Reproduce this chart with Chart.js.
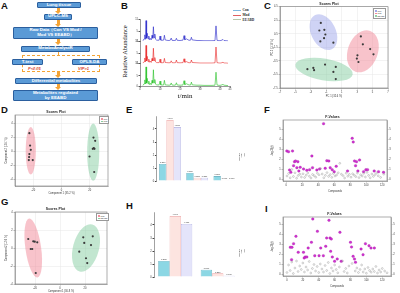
<!DOCTYPE html>
<html>
<head>
<meta charset="utf-8">
<script src="https://cdn.jsdelivr.net/npm/chart.js@4.4.1/dist/chart.umd.min.js"></script>
<style>
  body { margin:0; width:400px; height:293px; background:#fff; position:relative; overflow:hidden;
         font-family:"Liberation Sans", Arial, sans-serif; }
  canvas { position:absolute; }
  .lab { position:absolute; font-weight:bold; font-size:9.5px; color:#111; line-height:1; }
  .box { position:absolute; box-sizing:border-box; background:#5a9ad6; border:0.7px solid #2b5f9e;
         border-radius:1px; color:#fff; font-size:4.4px; font-weight:bold; line-height:4.8px;
         display:flex; align-items:center; justify-content:center; text-align:center; }
  .arr { position:absolute; width:3px; background:#f4a436; }
  .arr::after { content:""; position:absolute; left:-1.5px; top:100%;
                border-left:3px solid transparent; border-right:3px solid transparent; border-top:3px solid #f4a436; }
  .crit { position:absolute; font-size:4px; font-style:italic; font-weight:bold; color:#d8402a; }
  .leg { position:absolute; background:#fff; border:0.5px solid #999; font-size:2px; line-height:2.6px;
         padding:0.5px 1px; color:#333; }
  .leg i { display:inline-block; width:1.6px; height:1.6px; border-radius:50%; margin-right:1px; }
  .bl { position:absolute; font-family:"Liberation Serif", serif; font-weight:bold; font-size:3.4px; line-height:4.8px; color:#222; }
  .bl b { display:inline-block; width:8px; height:0.7px; vertical-align:middle; margin-right:1.5px; }
</style>
</head>
<body>

<!-- panel letters -->
<div class="lab" style="left:1px;top:1px">A</div>
<div class="lab" style="left:121px;top:1px">B</div>
<div class="lab" style="left:264px;top:1px">C</div>
<div class="lab" style="left:1px;top:105px">D</div>
<div class="lab" style="left:126px;top:105px">E</div>
<div class="lab" style="left:264px;top:105px">F</div>
<div class="lab" style="left:1px;top:197px">G</div>
<div class="lab" style="left:126px;top:201px">H</div>
<div class="lab" style="left:265px;top:204px">I</div>

<!-- A: workflow -->
<div class="box" style="left:37px;top:2px;width:44px;height:6px">Lung tissue</div>
<div class="arr" style="left:56.5px;top:8.3px;height:2.5px"></div>
<div class="box" style="left:44px;top:14px;width:28px;height:5.5px">UPLC-MS</div>
<div class="arr" style="left:56.5px;top:19.8px;height:4px"></div>
<div class="box" style="left:13px;top:27px;width:85px;height:12px">Raw Data（Con VS Mod /<br>Mod VS EEABD）</div>
<div class="arr" style="left:56.5px;top:39.3px;height:3px"></div>
<div class="box" style="left:21px;top:45.5px;width:69px;height:6.5px">MetaboAnalystR</div>
<div style="position:absolute;left:22px;top:55px;width:78px;height:17px;border:0.6px dashed #f4a436;box-sizing:border-box"></div>
<div style="position:absolute;left:57.5px;top:52px;width:1px;height:3px;background:#f4a436"></div>
<div class="box" style="left:12px;top:59px;width:31px;height:6px">T-test</div>
<div class="box" style="left:72px;top:59px;width:35px;height:6px">OPLS-DA</div>
<div class="crit" style="left:28px;top:66px">P&lt;0.05</div>
<div class="crit" style="left:78px;top:66px">VIP&gt;1</div>
<div class="arr" style="left:56.5px;top:72px;height:2.7px"></div>
<div class="box" style="left:15px;top:78px;width:82px;height:6px">Differential metabolites</div>
<div class="arr" style="left:56.5px;top:84.3px;height:2.5px"></div>
<div class="box" style="left:13px;top:90px;width:85px;height:11px">Metabolites regulated<br>by EEABD</div>

<!-- B extras -->
<div style="position:absolute;left:89px;top:48px;width:70px;text-align:center;transform:rotate(-90deg);
            font-family:'Liberation Serif',serif;font-size:6.5px;color:#111">Relative Abundance</div>
<div class="bl" style="left:233px;top:8px">
  <div><b style="background:#7fb8e0"></b>Con</div>
  <div><b style="background:#e06060"></b>Mod</div>
  <div><b style="background:#b8c8a8"></b>EEABD</div>
</div>

<canvas id="chB" width="152" height="101" style="left:118px;top:0px"></canvas>
<canvas id="chC" width="130" height="100" style="left:270px;top:0px"></canvas>
<canvas id="chD" width="130" height="90" style="left:0px;top:105px"></canvas>
<canvas id="chE" width="140" height="90" style="left:130px;top:105px"></canvas>
<canvas id="chF" width="130" height="90" style="left:270px;top:105px"></canvas>
<canvas id="chG" width="130" height="93" style="left:0px;top:200px"></canvas>
<canvas id="chH" width="140" height="93" style="left:130px;top:200px"></canvas>
<canvas id="chI" width="130" height="93" style="left:270px;top:200px"></canvas>

<!-- small legends -->
<div class="leg" style="left:373px;top:8px">
  <div><i style="background:#8c96e6"></i>Con</div>
  <div><i style="background:#f07a8c"></i>Mod</div>
  <div><i style="background:#78c896"></i>EEABD</div>
</div>
<div class="leg" style="left:99px;top:116px">
  <div><i style="background:#f07a8c"></i>Con</div>
  <div><i style="background:#78c896"></i>Mod</div>
</div>
<div class="leg" style="left:96px;top:213px">
  <div><i style="background:#f07a8c"></i>Mod</div>
  <div><i style="background:#78c896"></i>EEABD</div>
</div>
<div style="position:absolute;left:238px;top:153px;transform:rotate(90deg);font-size:2.2px;line-height:2.6px;color:#444">
  <div>Con</div><div>Mod</div><div>EEABD</div>
</div>
<div style="position:absolute;left:238px;top:249px;transform:rotate(90deg);font-size:2.2px;line-height:2.6px;color:#444">
  <div>Con</div><div>Mod</div><div>EEABD</div>
</div>

<script>
// ---- B: total ion chromatograms (x 10^7)
const rtTime = [1.5,2.0,2.4,2.7,3.0,3.3,3.6,4.0,4.4,4.8, 5.2,5.6,6.0,6.4,6.7,7.0,7.4,7.8,8.3,9.0,
  9.6,10.0,10.4,11.0,11.8,12.2,12.6,13.4,14.5,15.2, 15.6,16.0,17.0,17.8,18.2,18.6,20.0,21.5,22.0,22.4,
  23.2,24.5,25.3,25.7,26.1,27.0,28.5,30.0,32.0,34.0, 36.0,37.5,38.0,38.5,39.5,40.5,41.5,42.0,43.0,44.0];
const ticCon = [0.3,1.2,3.2,1.0,10.2,1.5,4.0,1.2,2.6,0.8, 1.4,0.7,3.0,1.5,7.2,1.8,3.6,1.0,0.6,0.5,
  0.6,2.6,0.6,0.5,0.6,3.0,0.7,0.5,0.4,0.6, 1.6,0.5,0.4,0.5,1.5,0.5,0.4,0.6,2.8,0.8,
  1.2,0.5,0.6,2.0,0.7,0.6,0.4,0.4,0.3,0.3, 0.3,0.4,7.6,0.5,0.3,0.4,0.9,0.4,0.3,0.2];
const ticMod = [0.3,1.0,2.8,0.9,9.0,1.3,3.6,1.0,2.2,0.7, 1.2,0.6,2.6,1.3,7.6,1.5,3.0,0.9,0.5,0.5,
  0.5,2.2,0.5,0.4,0.5,2.6,0.6,0.5,0.4,0.5, 1.4,0.5,0.4,0.5,1.8,0.5,0.4,0.5,2.4,0.7,
  1.0,0.4,0.5,1.8,0.6,0.5,0.4,0.3,0.3,0.3, 0.3,0.4,8.2,0.5,0.3,0.3,0.7,0.3,0.3,0.2];
const ticEEABD = [0.3,1.1,3.0,1.0,9.4,1.4,3.8,1.1,2.4,0.7, 1.3,0.6,2.8,1.4,8.0,1.6,3.2,0.9,0.6,0.5,
  0.6,2.4,0.6,0.5,0.5,2.8,0.6,0.5,0.4,0.5, 1.5,0.5,0.4,0.5,1.6,0.5,0.4,0.5,2.6,0.7,
  1.1,0.5,0.5,1.9,0.6,0.5,0.4,0.4,0.3,0.3, 0.3,0.4,6.8,0.5,0.3,0.4,0.8,0.4,0.3,0.2];

// ---- C: PCA scores, three groups
const cConX = [-1.71,-1.90,-1.25,-1.12,-1.29,-1.77,-0.08];
const cConY = [2.11,0.99,1.09,0.40,-0.14,-0.62,-0.81];
const cModX = [3.48,3.74,4.69,5.12,3.04,2.96,3.17];
const cModY = [0.11,-1.06,-1.75,-2.53,-2.67,-3.16,-3.66];
const cEeX = [-3.45,-2.68,-2.58,-1.16,0.23,-0.08,0.23];
const cEeY = [-4.72,-4.53,-4.87,-4.04,-4.39,-5.12,-6.19];
// ellipse centre / semi-axes / tilt (deg), order Con, Mod, EEABD
const cEllCx = [-1.37, 3.74, -1.29];
const cEllCy = [0.74, -2.09, -4.77];
const cEllRx = [1.6, 1.95, 3.77];
const cEllRy = [2.8, 3.2, 1.6];
const cEllRot = [-26, 20, 10];

// ---- D: OPLS-DA Con vs Mod
const dConX = [-22.8,-22.3,-21.8,-22.8,-23.0,-20.4,-23.2];
const dConY = [2.59,0.81,0.20,-0.41,-0.84,-1.27,-1.27];
const dModX = [22.7,23.9,22.2,23.4,19.9,23.2,22.9];
const dModY = [1.96,1.49,0.34,0.34,-0.76,-2.99,0.45];
const dEllCx = [-21.8, 22.5];
const dEllCy = [0.06, -0.13];
const dEllRx = [3.6, 4.3];
const dEllRy = [3.4, 4.1];

// ---- G: OPLS-DA Mod vs EEABD
const gModX = [-25.4,-21.4,-20.2,-18.2,-23.4,-22.2,-19.4];
const gModY = [1.00,0.74,0.70,0.63,-0.11,-0.11,-2.78];
const gEeX = [18.6,26.2,19.4,24.8,15.4,20.8,21.8];
const gEeY = [1.19,1.30,0.56,0.33,-0.41,-1.14,-1.67];
const gEllCx = [-21.4, 20.8];
const gEllCy = [0.0, 0.0];
const gEllRx = [6.3, 10.4];
const gEllRy = [3.3, 2.7];
const gEllRot = [-8, 15];

// ---- E / H: bar groups
const eCats = ['Total', 'Up', 'Down'];
const eCon = [1.31, 0.62, 0.38];
const eMod = [4.69, 0.25, 0.06];
const eEEABD = [4.15, 0.25, 0.06];
const hCats = ['Total', 'Up'];
const hCon = [1.23, 0.56];
const hMod = [4.69, 0.28];
const hEEABD = [4.08, 0.10];
const barTicks = [0, 1, 2, 3, 4];

// ---- F: F-values Con vs Mod
const fSigX = [0.8,2.9,7.9,4.2,5.8,9.2,10.4,11.7,13.3,14.6,15.8,17.5,21.7,25.8,29.2,32.1,32.9,38.3,41.7,46.7,
  48.8,50.8,53.3,55,57.5,60,62.5,76.7,82.5,83.8,85.4,86.7,87.9,89.6,91.7,96.7,99.6,101.7,110,115.4,121.7];
const fSigY = [2.8,2.73,2.8,0.9,0.67,1.33,1.73,1.8,1.13,1.73,0.8,1.17,1.0,0.87,0.93,2.3,1.13,0.9,1.0,5.53,
  1.07,1.83,1.8,1.13,0.93,0.73,1.27,0.8,4.07,3.7,1.8,1.33,1.73,0.8,1.9,0.73,0.93,0.93,0.8,0.73,0.67];
const fNsX = [1,3,5,7,9,11,13,15,17,19, 21,23,25,27,29,31,33,35,37,39, 41,43,45,47,49,51,53,55,57,59,
  61,63,65,67,69,71,73,75,77,79, 81,83,85,87,89,91,93,95,97,99, 101,103,105,107,109,111,113,115,118,122];
const fNsY = [0.30,0.55,0.12,0.95,0.25,0.62,0.08,0.35,0.48,0.20, 0.52,0.15,0.38,0.60,0.28,0.10,0.45,0.33,0.18,0.58,
  0.42,1.05,0.50,0.12,0.36,0.64,0.26,0.44,0.16,0.55, 0.30,0.40,0.62,1.57,0.48,0.34,0.10,0.58,0.28,0.46,
  0.18,0.52,0.38,0.24,0.60,0.14,0.42,0.30,0.56,0.20, 0.66,0.36,0.12,0.50,0.26,0.44,0.60,0.32,0.16,0.48];

// ---- I: F-values Mod vs EEABD
const iSigX = [4.2,6.3,8.3,11.3,5.8,14.2,20.8,21.7,22.9,25, 26.7,30.8,32.5,35,38.3,40.4,42.5,45.8,48.8,50,
  52.9,54.2,55.8,55,57.1,60,63.3,66.7,68.3,80, 81.3,83.3,85,86.3,93.3,95.8,98.8,103.3,105.8,110];
const iSigY = [2.67,2.67,3.03,3.77,1.43,2.17,2.17,1.6,1.7,1.7, 2.6,3.17,5.5,1.83,4.27,1.83,2.6,1.83,2.77,3.6,
  5.37,3.6,3.5,2.27,1.7,1.27,1.5,4.17,1.27,3.17, 2.7,1.77,1.5,1.17,2.5,1.93,3.03,2.83,2.6,2.6];
const iNsX = [0,2,4,6,8,10,12,14,16,18, 20,22,24,26,28,30,32,34,36,38, 40,42,44,46,48,50,52,54,56,58,
  60,62,64,66,70,72,74,76,78,82, 86,88,90,92,94,96,98,100,102,104, 106,108,110,112,114,116,118,120,123,126];
const iNsY = [0.15,0.9,0.35,1.2,0.05,0.6,1.3,0.25,0.8,0.45, 1.1,0.2,0.7,0.4,1.25,0.1,0.55,0.95,0.3,0.75,
  0.15,1.0,0.5,0.2,0.85,0.35,1.15,0.05,0.6,0.3, 0.9,0.45,0.12,0.7,1.3,0.25,0.55,0.1,0.8,1.05,
  0.3,0.6,0.15,0.45,0.9,0.2,0.5,0.08,0.65,0.35, 0.18,0.5,0.25,0.75,0.1,0.4,0.2,0.55,0.3,0.12];

Chart.defaults.animation = false;
Chart.defaults.responsive = false;
Chart.defaults.font.family = "'Liberation Sans', Arial, sans-serif";
Chart.defaults.font.size = 2.6;
Chart.defaults.color = '#333';
Chart.defaults.plugins.legend.display = false;
Chart.defaults.plugins.tooltip.enabled = false;

const RED = 'rgba(240,122,140,0.45)', GREEN = 'rgba(120,200,150,0.45)', BLUE = 'rgba(140,150,230,0.42)';

const pts = (xs, ys) => xs.map((x, i) => ({x, y: ys[i]}));

// draws confidence ellipses in data units
function ellipses(cx, cy, rx, ry, rot, colors) {
  return {
    id: 'ell',
    beforeDatasetsDraw(chart) {
      const {ctx, scales: {x, y}} = chart;
      ctx.save();
      cx.forEach((c, i) => {
        const px = x.getPixelForValue(c), py = y.getPixelForValue(cy[i]);
        const w = Math.abs(x.getPixelForValue(c + rx[i]) - px);
        const h = Math.abs(y.getPixelForValue(cy[i] + ry[i]) - py);
        ctx.beginPath();
        ctx.ellipse(px, py, w, h, (rot ? rot[i] : 0) * Math.PI / 180, 0, Math.PI * 2);
        ctx.fillStyle = colors[i];
        ctx.fill();
      });
      ctx.restore();
    }
  };
}

const frame = {
  id: 'frame',
  afterDraw(chart) {
    const {ctx, chartArea: a} = chart;
    ctx.save();
    ctx.strokeStyle = '#777';
    ctx.lineWidth = 0.6;
    ctx.strokeRect(a.left, a.top, a.right - a.left, a.bottom - a.top);
    ctx.restore();
  }
};

const barLabels = {
  id: 'barLabels',
  afterDatasetsDraw(chart) {
    const ctx = chart.ctx;
    ctx.save();
    ctx.font = "2.2px 'Liberation Sans'";
    ctx.fillStyle = '#333';
    ctx.textAlign = 'center';
    chart.data.datasets.forEach((ds, i) => {
      chart.getDatasetMeta(i).data.forEach((bar, j) => {
        ctx.fillText(ds.data[j].toFixed(3), bar.x, bar.y - 0.8);
      });
    });
    ctx.restore();
  }
};

function lin(o) {
  return {
    type: 'linear', min: o.min, max: o.max, position: o.pos,
    ticks: {stepSize: o.step, includeBounds: false, padding: 0.8, font: {size: 2.6}},
    grid: {drawOnChartArea: !!o.grid, color: '#e6e6e6', lineWidth: 0.5, tickLength: 1.5, tickColor: '#777'},
    border: {color: '#777', width: 0.5},
    title: {display: !!o.title, text: o.title, font: {size: 2.6}, padding: 0.5},
    afterFit: s => { if (s.isHorizontal()) s.height = o.fit; else s.width = o.fit; }
  };
}

const titleOpt = text => ({display: true, text, font: {size: 3.5, weight: 'bold'}, color: '#222',
                           padding: {top: 1.5, bottom: 1}});

function scoresChart(id, sets, plug, xs, ys, pad) {
  return new Chart(document.getElementById(id), {
    type: 'scatter',
    data: {datasets: sets.map(s => ({data: s, pointRadius: 1.1, pointBackgroundColor: '#3a3a3a', pointBorderWidth: 0}))},
    options: {
      layout: {padding: pad},
      plugins: {title: titleOpt('Scores Plot')},
      scales: {x: xs, y: ys}
    },
    plugins: [plug, frame]
  });
}

// B -- stacked axes: the first one listed sits at the bottom
const chromAxis = () => ({
  type: 'linear', position: 'left', stack: 'tic', stackWeight: 1, min: 0, max: 11,
  ticks: {stepSize: 5, padding: 0.5, font: {size: 2.6}},
  grid: {drawOnChartArea: false, tickLength: 1.5, tickColor: '#555'},
  border: {color: '#555', width: 0.6},
  afterFit: s => { s.width = 8; }
});
new Chart(document.getElementById('chB'), {
  type: 'line',
  data: {datasets: [
    {data: pts(rtTime, ticCon), yAxisID: 'yCon', borderColor: '#2020c8', borderWidth: 0.6, pointRadius: 0},
    {data: pts(rtTime, ticMod), yAxisID: 'yMod', borderColor: '#e82020', borderWidth: 0.6, pointRadius: 0},
    {data: pts(rtTime, ticEEABD), yAxisID: 'yEe', borderColor: '#20c020', borderWidth: 0.6, pointRadius: 0}
  ]},
  options: {
    layout: {padding: {left: 14, right: 40, top: 19, bottom: 1}},
    scales: {
      x: {type: 'linear', min: 0, max: 45,
          ticks: {stepSize: 10, padding: 0.5, font: {size: 2.6}},
          grid: {drawOnChartArea: false, tickLength: 1.5, tickColor: '#555'},
          border: {color: '#555', width: 0.6},
          title: {display: true, text: 't/min', font: {family: "'Liberation Serif', serif", size: 7}, color: '#111', padding: 0},
          afterFit: s => { s.height = 14; }},
      yEe: chromAxis(),
      yMod: chromAxis(),
      yCon: chromAxis()
    }
  }
});

// C
scoresChart('chC',
  [pts(cConX, cConY), pts(cModX, cModY), pts(cEeX, cEeY)],
  ellipses(cEllCx, cEllCy, cEllRx, cEllRy, cEllRot, [BLUE, RED, GREEN]),
  lin({min: -7, max: 7, step: 2, grid: true, title: 'PC 1 (32.6 %)', fit: 10}),
  lin({min: -7.5, max: 4.5, step: 2, grid: true, title: 'PC 2 (14.8 %)', fit: 10}),
  {left: 0, right: 12, top: 0, bottom: 2});

// D
scoresChart('chD',
  [pts(dConX, dConY), pts(dModX, dModY)],
  ellipses(dEllCx, dEllCy, dEllRx, dEllRy, null, [RED, GREEN]),
  lin({min: -33, max: 33, step: 20, grid: true, title: 'Component 1 (35.2 %)', fit: 9}),
  lin({min: -5, max: 5.2, step: 2, grid: true, title: 'Component 2 (10.4 %)', fit: 11}),
  {left: 4, right: 22, top: 3.3, bottom: 0});

// G
scoresChart('chG',
  [pts(gModX, gModY), pts(gEeX, gEeY)],
  ellipses(gEllCx, gEllCy, gEllRx, gEllRy, gEllRot, [RED, GREEN]),
  lin({min: -36, max: 37.6, step: 20, grid: true, title: 'Component 1 (30.8 %)', fit: 9}),
  lin({min: -4, max: 4, step: 2, grid: true, title: 'Component 2 (12.6 %)', fit: 11}),
  {left: 4, right: 23, top: 5.3, bottom: 0});

// E, H
function barChart(id, cats, con, mod, ee, pad) {
  const style = (data, fill, line) => ({data, backgroundColor: fill, borderColor: line, borderWidth: 0.6,
                                         categoryPercentage: 0.8, barPercentage: 1});
  return new Chart(document.getElementById(id), {
    type: 'bar',
    data: {labels: cats, datasets: [
      style(con, 'rgb(140,215,228)', 'rgb(60,150,170)'),
      style(mod, 'rgb(253,228,224)', 'rgb(236,160,160)'),
      style(ee, 'rgb(228,228,250)', 'rgb(160,160,220)')
    ]},
    options: {
      layout: {padding: pad},
      scales: {
        x: {grid: {display: false}, border: {display: false},
            ticks: {padding: 1, font: {size: 2.6}}, afterFit: s => { s.height = 8; }},
        y: {min: 0, max: 5,
            afterBuildTicks: s => { s.ticks = barTicks.map(v => ({value: v})); },
            ticks: {padding: 0.8, font: {size: 2.6}},
            grid: {drawOnChartArea: false, tickLength: 1.5, tickColor: '#444'},
            border: {color: '#444', width: 0.5},
            afterFit: s => { s.width = 8; }}
      }
    },
    plugins: [barLabels]
  });
}
barChart('chE', eCats, eCon, eMod, eEEABD, {left: 18.4, right: 32, top: 11, bottom: 6});
barChart('chH', hCats, hCon, hMod, hEEABD, {left: 16, right: 31, top: 12, bottom: 8});

// F, I
function fChart(id, sx, sy, nx, ny, xr, yr, pad) {
  return new Chart(document.getElementById(id), {
    type: 'scatter',
    data: {datasets: [
      {data: pts(nx, ny), pointRadius: 0.9, pointBackgroundColor: 'rgba(0,0,0,0)', pointBorderColor: '#8a8a8a', pointBorderWidth: 0.4},
      {data: pts(sx, sy), pointRadius: 1.3, pointBackgroundColor: '#d030d0', pointBorderColor: '#a020a0', pointBorderWidth: 0.3}
    ]},
    options: {
      layout: {padding: pad},
      plugins: {title: titleOpt('F-Values')},
      scales: {
        x: lin({min: xr[0], max: xr[1], step: 20, title: 'Compounds', fit: 12}),
        y: lin({min: yr[0], max: yr[1], step: 1, title: '-log10(p)', fit: 13}),
        y2: lin({min: yr[0], max: yr[1], step: 1, pos: 'right', fit: 8})
      }
    },
    plugins: [frame]
  });
}
fChart('chF', fSigX, fSigY, fNsX, fNsY, [-4, 126], [-0.2, 5.9], {left: 0, right: 5, top: 8.3, bottom: 2});
fChart('chI', iSigX, iSigY, iNsX, iNsY, [-5, 131], [-0.2, 5.7], {left: 0, right: 1, top: 10.3, bottom: 5});
</script>
</body>
</html>
